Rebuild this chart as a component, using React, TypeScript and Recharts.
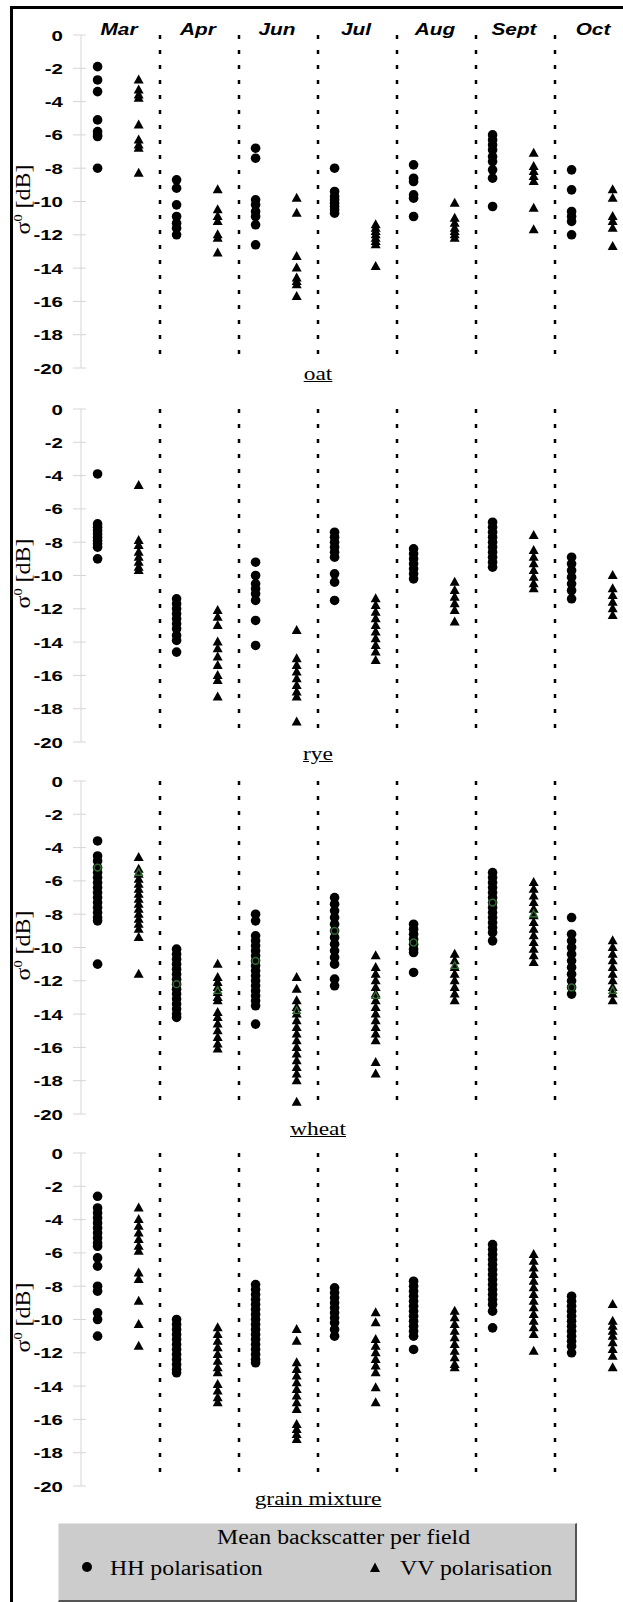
import React from 'react';
import { ScatterChart, Scatter, XAxis, YAxis, ReferenceLine } from 'recharts';

const months = ['Mar', 'Apr', 'Jun', 'Jul', 'Aug', 'Sept', 'Oct'];
const yTicks = [0, -2, -4, -6, -8, -10, -12, -14, -16, -18, -20];

// sigma0 per field, one list per month (HH / VV)
const oatHH = [
  [-1.9, -2.7, -3.4, -5.1, -5.8, -6.0, -6.1, -8.0],
  [-8.7, -9.2, -10.2, -10.9, -11.3, -11.6, -12.0],
  [-6.8, -7.4, -9.9, -10.2, -10.6, -10.9, -11.4, -12.6],
  [-8.0, -9.4, -9.7, -9.9, -10.1, -10.3, -10.5, -10.7],
  [-7.8, -8.6, -8.8, -9.6, -9.8, -10.9],
  [-6.0, -6.3, -6.6, -6.9, -7.3, -7.6, -8.1, -8.6, -10.3],
  [-8.1, -9.3, -10.6, -10.9, -11.2, -12.0],
];
const oatVV = [
  [-2.7, -3.3, -3.6, -3.8, -5.4, -6.3, -6.6, -6.8, -8.3],
  [-9.3, -10.5, -10.9, -11.2, -12.0, -12.2, -13.1],
  [-9.8, -10.7, -13.3, -14.0, -14.6, -14.8, -15.0, -15.7],
  [-11.4, -11.6, -11.8, -12.0, -12.2, -12.4, -12.6, -13.9],
  [-10.1, -11.0, -11.3, -11.6, -11.8, -12.0, -12.2],
  [-7.1, -7.9, -8.2, -8.5, -8.8, -10.4, -11.7],
  [-9.3, -9.8, -10.9, -11.2, -11.6, -12.7],
];

const ryeHH = [
  [-3.9, -6.9, -7.1, -7.3, -7.5, -7.7, -7.9, -8.1, -8.3, -9.0],
  [-11.4, -11.7, -12.0, -12.3, -12.6, -12.9, -13.2, -13.6, -13.9, -14.6],
  [-9.2, -10.0, -10.5, -10.8, -11.1, -11.5, -12.7, -14.2],
  [-7.4, -7.7, -8.0, -8.3, -8.6, -8.9, -9.9, -10.4, -11.5],
  [-8.4, -8.7, -9.0, -9.3, -9.6, -9.9, -10.2],
  [-6.8, -7.1, -7.4, -7.7, -8.0, -8.3, -8.6, -8.9, -9.2, -9.5],
  [-8.9, -9.3, -9.7, -10.1, -10.5, -10.9, -11.4],
];
const ryeVV = [
  [-4.6, -7.9, -8.2, -8.6, -8.9, -9.2, -9.5, -9.7],
  [-12.1, -12.5, -13.0, -14.0, -14.4, -14.9, -15.4, -16.0, -16.3, -17.3],
  [-13.3, -15.0, -15.4, -15.8, -16.2, -16.6, -17.0, -17.3, -18.8],
  [-11.4, -11.8, -12.2, -12.6, -13.0, -13.4, -13.8, -14.2, -14.6, -15.1],
  [-10.4, -10.9, -11.3, -11.7, -12.1, -12.8],
  [-7.6, -8.5, -8.9, -9.3, -9.7, -10.1, -10.5, -10.8],
  [-10.0, -10.8, -11.2, -11.6, -12.0, -12.4],
];

const wheatHH = [
  [-3.6, -4.5, -4.8, -5.2, -5.5, -5.8, -6.1, -6.4, -6.7, -7.0, -7.3, -7.6, -7.9, -8.2, -8.4, -11.0],
  [-10.1, -10.4, -10.7, -11.0, -11.3, -11.6, -11.9, -12.2, -12.5, -12.8, -13.1, -13.4, -13.7, -14.0, -14.2],
  [-8.0, -8.4, -9.3, -9.6, -9.9, -10.2, -10.5, -10.8, -11.1, -11.4, -11.7, -12.0, -12.3, -12.6, -12.9, -13.2, -13.5, -14.6],
  [-7.0, -7.4, -7.8, -8.2, -8.6, -9.0, -9.4, -9.8, -10.2, -10.6, -11.0, -11.9, -12.3],
  [-8.6, -8.9, -9.2, -9.5, -9.8, -10.1, -10.3, -11.5],
  [-5.5, -5.8, -6.1, -6.4, -6.7, -7.0, -7.3, -7.6, -7.9, -8.2, -8.5, -8.8, -9.1, -9.6],
  [-8.2, -9.2, -9.6, -10.0, -10.4, -10.8, -11.2, -11.6, -12.0, -12.4, -12.8],
];
const wheatVV = [
  [-4.6, -5.3, -5.6, -5.9, -6.2, -6.5, -6.8, -7.1, -7.4, -7.7, -8.0, -8.3, -8.6, -8.9, -9.4, -11.6],
  [-11.0, -11.8, -12.1, -12.4, -12.7, -13.0, -13.2, -13.9, -14.2, -14.6, -15.0, -15.4, -15.8, -16.1],
  [-11.8, -12.5, -13.2, -13.6, -14.0, -14.4, -14.8, -15.2, -15.6, -16.0, -16.4, -16.8, -17.2, -17.6, -18.0, -19.3],
  [-10.5, -11.2, -11.6, -12.0, -12.4, -12.8, -13.2, -13.6, -14.0, -14.4, -14.8, -15.2, -15.6, -16.9, -17.6],
  [-10.4, -10.8, -11.2, -11.6, -12.0, -12.4, -12.8, -13.2],
  [-6.1, -6.5, -6.9, -7.3, -7.7, -8.1, -8.5, -8.9, -9.3, -9.7, -10.1, -10.5, -10.9],
  [-9.6, -10.0, -10.4, -10.8, -11.2, -11.6, -12.0, -12.4, -12.8, -13.2],
];
// green markers in the wheat panel (mean of all fields)
const wheatMeanHH = [-5.2, -12.2, -10.8, -9.0, -9.7, -7.3, -12.4];
const wheatMeanVV = [-5.5, -12.6, -13.8, -12.9, -11.1, -8.0, -12.6];

const mixHH = [
  [-2.6, -3.3, -3.6, -3.9, -4.2, -4.5, -4.8, -5.1, -5.4, -5.6, -6.3, -6.8, -8.0, -8.3, -9.6, -10.0, -11.0],
  [-10.0, -10.3, -10.6, -10.9, -11.2, -11.5, -11.8, -12.1, -12.4, -12.7, -13.0, -13.2],
  [-7.9, -8.2, -8.5, -8.8, -9.1, -9.4, -9.7, -10.0, -10.3, -10.6, -10.9, -11.2, -11.5, -11.8, -12.1, -12.4, -12.6],
  [-8.1, -8.4, -8.7, -9.0, -9.3, -9.6, -9.9, -10.2, -10.6, -11.0],
  [-7.7, -8.0, -8.3, -8.6, -8.9, -9.2, -9.5, -9.8, -10.1, -10.4, -10.7, -11.0, -11.8],
  [-5.5, -5.8, -6.1, -6.4, -6.7, -7.0, -7.3, -7.6, -7.9, -8.2, -8.5, -8.8, -9.1, -9.5, -10.5],
  [-8.6, -8.9, -9.2, -9.5, -9.8, -10.1, -10.4, -10.7, -11.0, -11.3, -11.6, -12.0],
];
const mixVV = [
  [-3.3, -4.0, -4.4, -4.8, -5.2, -5.6, -5.9, -7.2, -7.6, -8.9, -10.3, -11.6],
  [-10.5, -10.9, -11.3, -11.7, -12.1, -12.5, -12.9, -13.2, -13.9, -14.3, -14.7, -15.0],
  [-10.6, -11.3, -12.6, -13.0, -13.4, -13.8, -14.2, -14.6, -15.0, -15.4, -16.3, -16.6, -16.9, -17.2],
  [-9.6, -10.2, -11.2, -11.6, -12.0, -12.4, -12.8, -13.2, -14.1, -15.0],
  [-9.5, -9.9, -10.3, -10.7, -11.1, -11.5, -11.9, -12.3, -12.7, -12.9],
  [-6.1, -6.5, -6.9, -7.3, -7.7, -8.1, -8.5, -8.9, -9.3, -9.7, -10.1, -10.5, -10.9, -11.9],
  [-9.1, -10.1, -10.4, -10.7, -11.0, -11.4, -11.8, -12.2, -12.9],
];

const panels = [
  { name: 'oat', hh: oatHH, vv: oatVV },
  { name: 'rye', hh: ryeHH, vv: ryeVV },
  { name: 'wheat', hh: wheatHH, vv: wheatVV, meanHH: wheatMeanHH, meanVV: wheatMeanVV },
  { name: 'grain mixture', hh: mixHH, vv: mixVV },
];

const HH_OFFSET = 0.21;
const VV_OFFSET = 0.73;

const toPoints = (lists: number[][], offset: number) =>
  lists.flatMap((list, i) => list.map((y) => ({ x: i + offset, y })));
const meanPoints = (vals: number[], offset: number) => vals.map((y, i) => ({ x: i + offset, y }));

const SANS = "'Liberation Sans', Arial, sans-serif";
const SERIF = "'Liberation Serif', 'Times New Roman', 'DejaVu Serif', serif";
const GREEN = '#2f6a2f';

const Dot = (p: any) => <circle cx={p.cx} cy={p.cy} r={4.8} fill="#000" />;
const Tri = (p: any) => (
  <polygon points={`${p.cx},${p.cy - 5.5} ${p.cx - 5},${p.cy + 3.5} ${p.cx + 5},${p.cy + 3.5}`} fill="#000" />
);
const MeanDot = (p: any) => <circle cx={p.cx} cy={p.cy} r={3.4} fill="none" stroke={GREEN} strokeWidth={1.5} />;
const MeanTri = (p: any) => (
  <polygon
    points={`${p.cx},${p.cy - 4} ${p.cx - 3.6},${p.cy + 2.6} ${p.cx + 3.6},${p.cy + 2.6}`}
    fill="none"
    stroke={GREEN}
    strokeWidth={1.4}
  />
);

const YTick = ({ x, y, payload }: any) => (
  <g>
    <line x1={x - 8} x2={x + 5} y1={y} y2={y} stroke="#d6d6d6" />
    <g transform={`translate(${x - 18},${y}) scale(1.32,1)`}>
      <text x={0} y={0} textAnchor="end" dy="0.36em" fontFamily={SANS} fontWeight="bold" fontSize={15.5} fill="#000">
        {payload.value}
      </text>
    </g>
  </g>
);

const MonthTick = ({ x, y, payload }: any) => (
  <g transform={`translate(${x - 1.5},${y}) scale(1.3,1)`}>
    <text x={0} y={0} textAnchor="middle" fontFamily={SANS} fontWeight="bold" fontStyle="italic" fontSize={16} fill="#000">
      {months[Math.floor(payload.value)]}
    </text>
  </g>
);

const YLabel = (props: any) => {
  const vb = props.viewBox || { x: 0, y: 35, width: 81, height: 333 };
  const cx = vb.x + 30;
  const cy = vb.y + vb.height / 2 - 2;
  return (
    <g transform={`translate(${cx},${cy}) rotate(-90) scale(1.2,1)`}>
      <text x={0} y={0} textAnchor="middle" fontFamily={SERIF} fontSize={20} fill="#000">
        σ<tspan dy={-8} fontSize={12}>0</tspan>
        <tspan dy={8}> [dB]</tspan>
      </text>
    </g>
  );
};

const PLOT_H = 333;
const panelTops = [0, 374, 746, 1118];
const labelBaselines = [380, 760, 1135, 1505];
const separators = months.slice(1).map((_, i) => i + 1);
const monthTicks = months.map((_, i) => i + 0.5);

function Panel({ panel, showMonths }: { panel: any; showMonths: boolean }) {
  return (
    <ScatterChart width={634} height={35 + PLOT_H + 12} margin={{ top: 5, right: 0, bottom: 12, left: 0 }}>
      <XAxis
        xAxisId={0}
        type="number"
        dataKey="x"
        orientation="top"
        domain={[0, 7]}
        ticks={monthTicks}
        height={30}
        axisLine={false}
        tickLine={false}
        tickSize={0}
        tickMargin={0}
        tick={showMonths ? <MonthTick /> : false}
        interval={0}
      />
      <YAxis
        type="number"
        dataKey="y"
        domain={[-20, 0]}
        ticks={yTicks}
        width={81}
        interval={0}
        tickLine={false}
        tickSize={0}
        tickMargin={0}
        axisLine={{ stroke: '#d6d6d6' }}
        tick={<YTick />}
        label={{ content: (p: any) => <YLabel {...p} /> }}
      />
      {separators.map((s) => (
        <ReferenceLine
          key={s}
          segment={[{ x: s, y: 0 }, { x: s, y: -19.6 }]}
          stroke="#000"
          strokeWidth={2.5}
          strokeDasharray="4 11"
        />
      ))}
      <Scatter name="HH polarisation" data={toPoints(panel.hh, HH_OFFSET)} shape={Dot} isAnimationActive={false} />
      <Scatter name="VV polarisation" data={toPoints(panel.vv, VV_OFFSET)} shape={Tri} isAnimationActive={false} />
      {panel.meanHH && (
        <Scatter name="HH mean" data={meanPoints(panel.meanHH, HH_OFFSET)} shape={MeanDot} isAnimationActive={false} />
      )}
      {panel.meanVV && (
        <Scatter name="VV mean" data={meanPoints(panel.meanVV, VV_OFFSET)} shape={MeanTri} isAnimationActive={false} />
      )}
    </ScatterChart>
  );
}

const textStyle = (left: number, baseline: number, size: number, sx: number, center = false): React.CSSProperties => ({
  position: 'absolute',
  left,
  top: baseline - Math.round(size * 0.84),
  fontFamily: SERIF,
  fontSize: size,
  lineHeight: `${size}px`,
  whiteSpace: 'nowrap',
  color: '#000',
  transform: center ? `translateX(-50%) scaleX(${sx})` : `scaleX(${sx})`,
  transformOrigin: center ? 'center' : 'left',
});

export default function App() {
  return (
    <div
      style={{
        position: 'absolute',
        left: 0,
        top: 0,
        width: 623,
        height: 1602,
        overflow: 'hidden',
        background: '#fff',
      }}
    >
      <div
        style={{
          position: 'absolute',
          left: 10,
          top: 6,
          width: 700,
          height: 1700,
          borderLeft: '3px solid #000',
          borderTop: '3px solid #000',
        }}
      />
      {panels.map((p, i) => (
        <div key={p.name} style={{ position: 'absolute', left: 0, top: panelTops[i] }}>
          <Panel panel={p} showMonths={i === 0} />
        </div>
      ))}
      {panels.map((p, i) => (
        <div key={`lbl-${p.name}`} style={{ ...textStyle(318, labelBaselines[i], 18, 1.3, true), textDecoration: 'underline' }}>
          {p.name}
        </div>
      ))}
      <div
        style={{
          position: 'absolute',
          left: 58,
          top: 1523,
          width: 519,
          height: 79,
          boxSizing: 'border-box',
          background: '#cccccc',
          borderTop: '1px solid #e4e4e4',
          borderLeft: '1px solid #e4e4e4',
          borderRight: '2px solid #555',
          borderBottom: '2px solid #555',
        }}
      />
      <div style={textStyle(217, 1544, 20, 1.19)}>Mean backscatter per field</div>
      <svg style={{ position: 'absolute', left: 81, top: 1561 }} width={12} height={12}>
        <circle cx={6} cy={6} r={5} fill="#000" />
      </svg>
      <div style={textStyle(110, 1575, 20, 1.19)}>HH polarisation</div>
      <svg style={{ position: 'absolute', left: 369, top: 1562 }} width={12} height={11}>
        <polygon points="6,0.5 1,10 11,10" fill="#000" />
      </svg>
      <div style={textStyle(400, 1575, 20, 1.19)}>VV polarisation</div>
    </div>
  );
}
